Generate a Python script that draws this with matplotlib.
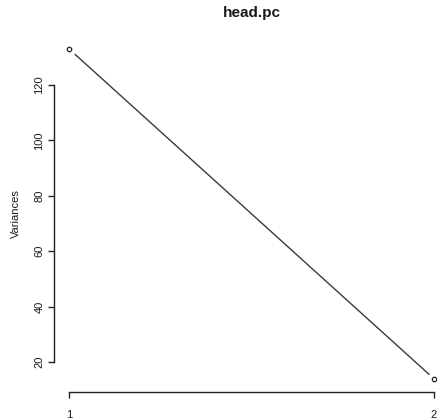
import matplotlib
matplotlib.use("Agg")
import matplotlib.pyplot as plt

components = [1, 2]
variances = [133.0, 13.9]
tick_labels = ["1", "2"]
yticks = [20, 40, 60, 80, 100, 120]

plt.rcParams['font.family'] = ['Liberation Sans', 'DejaVu Sans']

fig = plt.figure(figsize=(4.37, 4.20), dpi=100)
W, H = 437, 420
left, right, bottom, top = 54.4, 448.6, 392.0, 35.7
ax = fig.add_axes([left / W, 1 - bottom / H, (right - left) / W, (bottom - top) / H])

x0, x1 = min(components), max(components)
dx = (x1 - x0) * 0.04
ax.set_xlim(x0 - dx, x1 + dx)
y0, y1 = min(variances), max(variances)
dy = (y1 - y0) * 0.04
ax.set_ylim(y0 - dy, y1 + dy)

ax.plot(components, variances, '-', color='#3a3a3a', lw=1.0, clip_on=False, zorder=1)
ax.plot(components, variances, 'o', ms=10, mfc='white', mec='none', clip_on=False, zorder=2)
ax.plot(components, variances, 'o', ms=3.2, mfc='none', mec='#222222', mew=0.9, clip_on=False, zorder=3)

for s in ['top', 'right']:
    ax.spines[s].set_visible(False)
ax.spines['left'].set_bounds(min(yticks), max(yticks))
ax.spines['bottom'].set_bounds(x0, x1)
for s in ['left', 'bottom']:
    ax.spines[s].set_linewidth(1.0)
    ax.spines[s].set_color('#222222')

ax.set_xticks(components)
ax.set_xticklabels(tick_labels)
ax.set_yticks(yticks)
ax.set_yticklabels([str(v) for v in yticks], rotation=90, va='center')
ax.tick_params(axis='both', length=4.2, width=1.0, color='#222222', labelsize=8, labelcolor='#1a1a1a')
ax.tick_params(axis='x', pad=8.5)
ax.tick_params(axis='y', pad=3)

ax.set_ylabel('Variances', fontsize=8, labelpad=10, color='#1a1a1a')
fig.text((left + right) / 2 / W, 1 - 13 / H, 'head.pc', fontsize=11, fontweight='bold',
         ha='center', va='center', color='#1a1a1a')

fig.savefig('out.png', dpi=100)
